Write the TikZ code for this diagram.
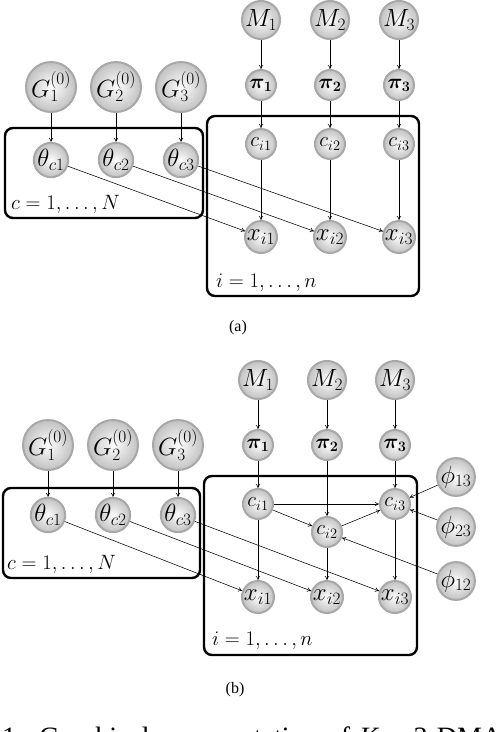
\documentclass[tikz,border=0pt]{standalone}
\usepackage{fontspec}
\usepackage{bm}
\usetikzlibrary{arrows.meta}
\newfontfamily\capfont{Liberation Serif}
\tikzset{
  rv/.style={circle, draw=gray!68, line width=2pt, shading=radial, inner color=gray!2, outer color=gray!48, inner sep=0pt, minimum size=#1, font=\fontsize{22}{24}\selectfont},
  bignode/.style={rv=50pt, font=\fontsize{23}{26}\selectfont},
  mednode/.style={rv=37pt, font=\fontsize{23}{26}\selectfont},
  pinode/.style={rv=30pt, font=\fontsize{22}{24}\selectfont},
  cnode/.style={rv=30pt, font=\fontsize{22}{24}\selectfont},
  thnode/.style={rv=34pt, font=\fontsize{24}{26}\selectfont},
  xnode/.style={rv=32pt, font=\fontsize{23}{26}\selectfont},
  phinode/.style={rv=37pt, font=\fontsize{24}{26}\selectfont},
  arr/.style={line width=0.55pt, -{To[length=4pt,width=4.5pt]}},
  plate/.style={line width=2.4pt, rounded corners=8pt},
  platelab/.style={anchor=west, inner sep=0pt, font=\fontsize{22.5}{25}\selectfont},
  capt/.style={font=\capfont\fontsize{16}{18}\selectfont, inner sep=0pt}
}
\begin{document}
\begin{tikzpicture}[x=1pt,y=-1pt]
\useasboundingbox (0,0) rectangle (498,732);
% ---------------- panel (a) ----------------
\draw[plate] (5,128) rectangle (203,218);
\draw[plate] (207,116) rectangle (419,296);
\node[platelab] (lc) at (11,204) {$c=1,\ldots,N$};
\node[platelab] (li) at (216,283) {$i=1,\ldots,n$};
\foreach \k/\gx/\mx in {1/51/261, 2/116/330, 3/181/399}{
  \node[bignode] (G\k) at (\gx,87) {$G_{\k}^{(0)}$};
  \node[thnode] (th\k) at (\gx,160) {$\theta_{c\k}$};
  \node[mednode] (M\k) at (\mx,20) {$M_{\k}$};
  \node[pinode] (pi\k) at (\mx,85) {$\bm{\pi_{\k}}$};
  \node[cnode] (c\k) at (\mx,144) {$c_{i\k}$};
  \node[xnode] (x\k) at (\mx,237) {$x_{i\k}$};
}
\foreach \k in {1,2,3}{
  \draw[arr] (G\k) -- (th\k);
  \draw[arr] (M\k) -- (pi\k);
  \draw[arr] (pi\k) -- (c\k);
  \draw[arr] (c\k) -- (x\k);
  \draw[arr] (th\k) -- (x\k);
}
\node[capt] (capa) at (238,328) {(a)};
% ---------------- panel (b) ----------------
\draw[plate] (3,488) rectangle (200,578);
\draw[plate] (204,476) rectangle (417,655);
\node[platelab] (lcb) at (7,564) {$c=1,\ldots,N$};
\node[platelab] (lib) at (212,641) {$i=1,\ldots,n$};
\foreach \k/\gx/\mx in {1/48/258, 2/113/327, 3/178/395}{
  \node[bignode] (bG\k) at (\gx,445) {$G_{\k}^{(0)}$};
  \node[thnode] (bth\k) at (\gx,515) {$\theta_{c\k}$};
  \node[mednode] (bM\k) at (\mx,380) {$M_{\k}$};
  \node[pinode] (bpi\k) at (\mx,445) {$\bm{\pi_{\k}}$};
  \node[xnode] (bx\k) at (\mx,597) {$x_{i\k}$};
}
\node[cnode] (bc1) at (258,504) {$c_{i1}$};
\node[cnode] (bc2) at (327,532) {$c_{i2}$};
\node[cnode] (bc3) at (395,504) {$c_{i3}$};
\node[phinode] (p13) at (456,477) {$\phi_{13}$};
\node[phinode] (p23) at (456,527) {$\phi_{23}$};
\node[phinode] (p12) at (456,581) {$\phi_{12}$};
\foreach \k in {1,2,3}{
  \draw[arr] (bG\k) -- (bth\k);
  \draw[arr] (bM\k) -- (bpi\k);
  \draw[arr] (bpi\k) -- (bc\k);
  \draw[arr] (bc\k) -- (bx\k);
  \draw[arr] (bth\k) -- (bx\k);
}
\draw[arr] (bc1) -- (bc3);
\draw[arr] (bc1) -- (bc2);
\draw[arr] (bc2) -- (bc3);
\draw[arr] (p13) -- (bc3);
\draw[arr] (p23) -- (bc3);
\draw[arr] (p12) -- (bc2);
\node[capt] (capb) at (235,690) {(b)};
% ---------------- caption, cut by the lower edge as in the reference ----------------
\begin{scope}
\clip (0,0) rectangle (498,732);
\node[anchor=base west, inner sep=0pt, font=\capfont\fontsize{28}{32}\selectfont] (figcap) at (2,746) {\makebox[500pt][s]{1. Graphical representation of \textit{K} = 3 DMA}};
\end{scope}
\end{tikzpicture}
\end{document}
